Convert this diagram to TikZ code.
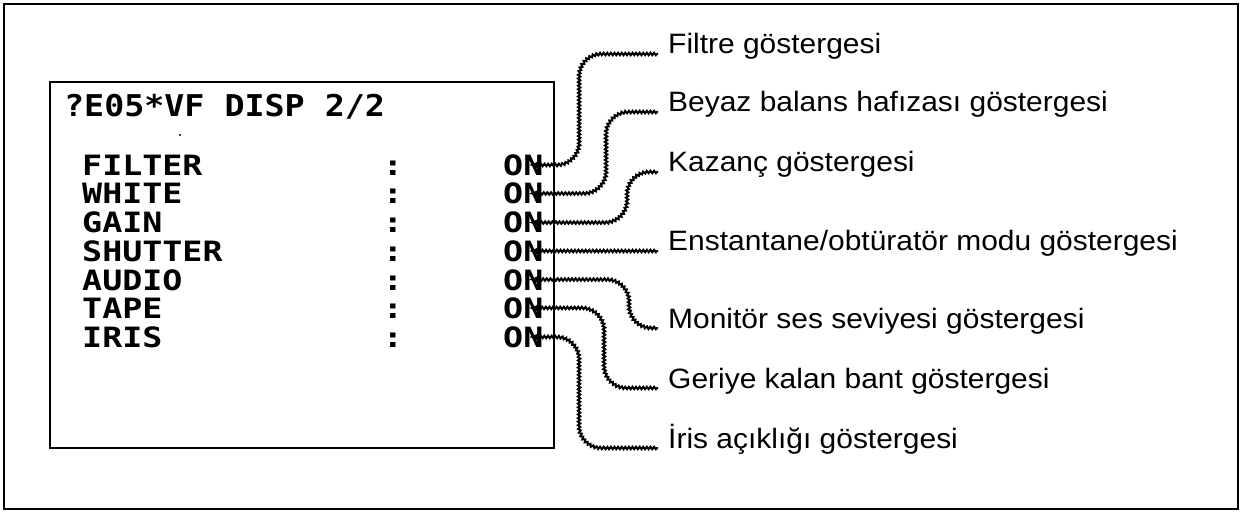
\documentclass[tikz,border=0pt]{standalone}
\usepackage{fontspec}
\setmainfont{Liberation Sans}
\newfontfamily\labfont[FakeStretch=1.07]{Liberation Sans}
\newfontfamily\scrfont[FakeStretch=1.19]{DejaVu Sans Mono}
\newfontfamily\ttlfont[FakeStretch=1.11]{DejaVu Sans Mono}
\usetikzlibrary{decorations.pathmorphing,arrows.meta}
\begin{document}
\begin{tikzpicture}[x=1pt,y=-1pt,
  scr/.style={inner sep=0pt,anchor=base west,font=\scrfont\bfseries\fontsize{28}{28}\selectfont},
  ttl/.style={inner sep=0pt,anchor=base west,font=\ttlfont\bfseries\fontsize{30}{30}\selectfont},
  colon/.style={inner sep=0pt,anchor=base,font=\scrfont\bfseries\fontsize{28}{28}\selectfont},
  lab/.style={inner sep=0pt,anchor=base west,font=\labfont\fontsize{28}{28}\selectfont},
  wire/.style={line width=2pt,
    decorate,decoration={snake,amplitude=1.2pt,segment length=3.6pt,pre length=1pt,post length=9pt},
    -{Latex[length=12pt,width=10pt]}}]
\useasboundingbox (0,0) rectangle (1242,513);
\draw[line width=2.5pt] (4,4) rectangle (1238,509);
\draw[line width=1.8pt] (50,82) rectangle (554,448);
\node[ttl] (title) at (64,117) {?E05*VF DISP 2/2};
\fill (180,135) circle (1.1pt);
% rows
\node[scr] (r1) at (82,175.5) {FILTER};
\node[scr] (r2) at (82,204) {WHITE};
\node[scr] (r3) at (82,233) {GAIN};
\node[scr] (r4) at (82,261.5) {SHUTTER};
\node[scr] (r5) at (82,290) {AUDIO};
\node[scr] (r6) at (82,318.5) {TAPE};
\node[scr] (r7) at (82,347.5) {IRIS};
\foreach \i/\y in {1/175.5,2/204,3/233,4/261.5,5/290,6/318.5,7/347.5}{
  \node[colon] (c\i) at (393,\y) {:};
  \node[scr] (on\i) at (503,\y) {ON};
}
% labels
\node[lab] (l1) at (668,54) {Filtre göstergesi};
\node[lab] (l2) at (668,112) {Beyaz balans hafızası göstergesi};
\node[lab] (l3) at (668,172) {Kazanç göstergesi};
\node[lab] (l4) at (668,251) {Enstantane/obtüratör modu göstergesi};
\node[lab] (l5) at (668,328) {Monitör ses seviyesi göstergesi};
\node[lab] (l6) at (668,388) {Geriye kalan bant göstergesi};
\node[lab] (l7) at (668,448) {İris açıklığı göstergesi};
% wires (corner radius 22)
\draw[wire] ([xshift=-10pt]l1.base west) -- (602,54) .. controls (590,54) and (580,64) .. (580,76)
  -- (580,143) .. controls (580,155) and (570,165) .. (558,165) -- ([xshift=-15pt,yshift=10.5pt]on1.base east);
\draw[wire] ([xshift=-10pt]l2.base west) -- (629,112) .. controls (617,112) and (607,122) .. (607,134)
  -- (607,171.5) .. controls (607,183.5) and (597,193.5) .. (585,193.5) -- ([xshift=-15pt,yshift=10.5pt]on2.base east);
\draw[wire] ([xshift=-10pt]l3.base west) -- (650,172) .. controls (638,172) and (628,182) .. (628,194)
  -- (628,200.5) .. controls (628,212.5) and (618,222.5) .. (606,222.5) -- ([xshift=-15pt,yshift=10.5pt]on3.base east);
\draw[wire] ([xshift=-10pt]l4.base west) -- ([xshift=-15pt,yshift=10.5pt]on4.base east);
\draw[wire] ([xshift=-10pt]l5.base west) -- (652,328) .. controls (640,328) and (630,318) .. (630,306)
  -- (630,301.5) .. controls (630,289.5) and (620,279.5) .. (608,279.5) -- ([xshift=-15pt,yshift=10.5pt]on5.base east);
\draw[wire] ([xshift=-10pt]l6.base west) -- (627,388) .. controls (615,388) and (605,378) .. (605,366)
  -- (605,330) .. controls (605,318) and (595,308) .. (583,308) -- ([xshift=-15pt,yshift=10.5pt]on6.base east);
\draw[wire] ([xshift=-10pt]l7.base west) -- (602,448) .. controls (590,448) and (580,438) .. (580,426)
  -- (580,359) .. controls (580,347) and (570,337) .. (558,337) -- ([xshift=-15pt,yshift=10.5pt]on7.base east);
\end{tikzpicture}
\end{document}
